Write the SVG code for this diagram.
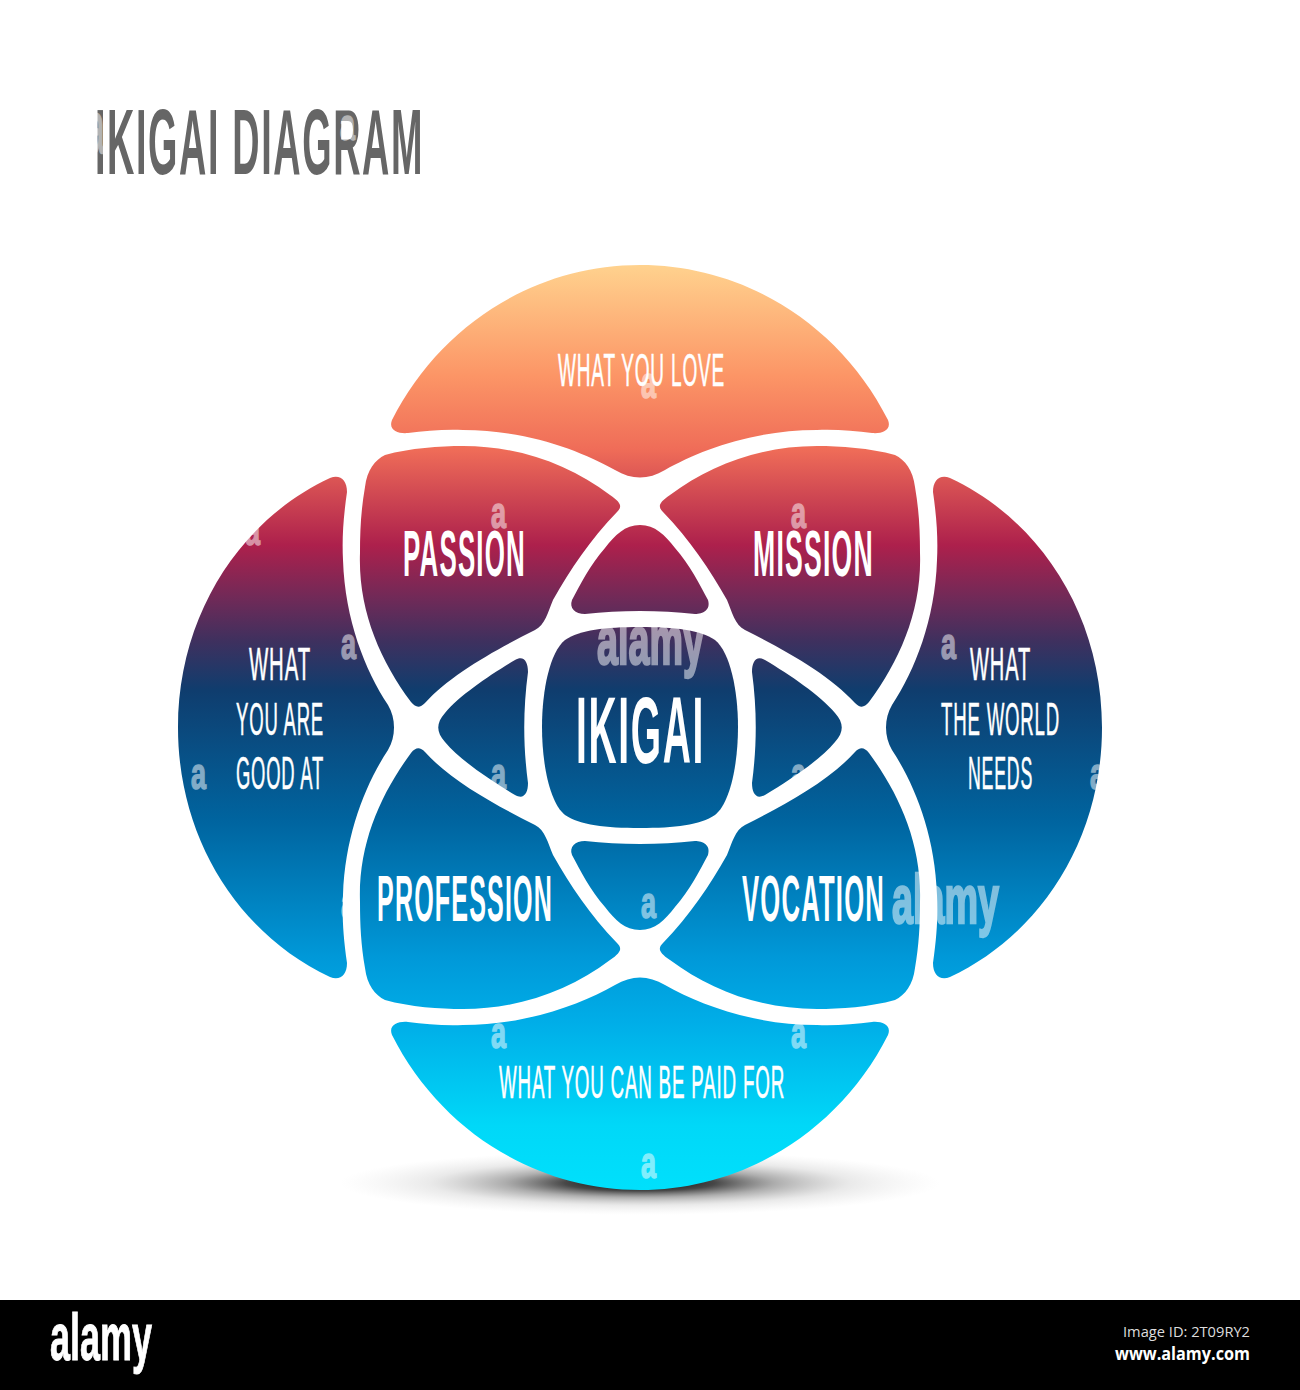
<svg xmlns="http://www.w3.org/2000/svg" width="1300" height="1390" viewBox="0 0 1300 1390">
<defs>
<linearGradient id="g" gradientUnits="userSpaceOnUse" x1="0" y1="265" x2="0" y2="1190">
<stop offset="0" stop-color="#ffd28e"/>
<stop offset="0.12" stop-color="#fc9566"/>
<stop offset="0.2" stop-color="#ef6c58"/>
<stop offset="0.303" stop-color="#ad204c"/>
<stop offset="0.362" stop-color="#6e2a58"/>
<stop offset="0.405" stop-color="#40305e"/>
<stop offset="0.46" stop-color="#0f3d6e"/>
<stop offset="0.6" stop-color="#00649f"/>
<stop offset="0.75" stop-color="#0099d9"/>
<stop offset="0.82" stop-color="#00aee8"/>
<stop offset="0.93" stop-color="#00d8f8"/>
<stop offset="1" stop-color="#00e0fc"/>
</linearGradient>
<radialGradient id="sh" cx="0.5" cy="0.5" r="0.5">
<stop offset="0" stop-color="#000" stop-opacity="1"/>
<stop offset="0.25" stop-color="#333" stop-opacity="0.9"/>
<stop offset="0.45" stop-color="#777" stop-opacity="0.6"/>
<stop offset="0.7" stop-color="#aaa" stop-opacity="0.25"/>
<stop offset="1" stop-color="#ccc" stop-opacity="0"/>
</radialGradient>
</defs>
<style>
.p{fill:url(#g)}
text{font-family:"Liberation Sans",Arial,sans-serif}
.t{fill:#fff}
.b{font-size:65px;font-weight:700;letter-spacing:3px}
.s{font-size:47px;letter-spacing:2px;stroke:#fff;stroke-width:.6px}
.w{fill:#fff;stroke:#fff;stroke-width:1.5px;opacity:.5;font-weight:700;font-size:44px}
.a{font-size:68px;stroke-width:2.5px}
.f{font-family:"Open Sans","Liberation Sans",sans-serif}
</style>
<rect width="1300" height="1390" fill="#fff"/>
<ellipse cx="640" cy="1183" rx="300" ry="32" fill="url(#sh)"/>
<text id="title" x="95" y="174" font-size="93" font-weight="700" fill="#666" letter-spacing="4" textLength="329" lengthAdjust="spacingAndGlyphs">IKIGAI DIAGRAM</text>
<g id="love"><path class="p" d="M392 420C440 325 535 265 640 265C745 265 840 325 888 420C892 430 882 434 872 433C855 431 835 429 817 430C755 430 700 450 665 470C648 480 632 480 615 470C580 450 525 430 463 430C445 429 425 431 408 433C398 434 388 430 392 420Z"/>
<text class="t s" x="558" y="386" textLength="167" lengthAdjust="spacingAndGlyphs">WHAT YOU LOVE</text></g>
<g id="paid"><path class="p" d="M392 1035C440 1130 535 1190 640 1190C745 1190 840 1130 888 1035C892 1025 882 1021 872 1022C855 1024 835 1026 817 1025C755 1025 700 1005 665 985C648 975 632 975 615 985C580 1005 525 1025 463 1025C445 1026 425 1024 408 1022C398 1021 388 1025 392 1035Z"/>
<text class="t s" x="499" y="1098" textLength="286" lengthAdjust="spacingAndGlyphs">WHAT YOU CAN BE PAID FOR</text></g>
<g id="good"><path class="p" d="M330 478C340 474 347 480 347 492C343 520 342 540 343 560C345 620 365 670 388 705C396 718 396 737 388 750C365 785 345 835 343 895C342 915 343 935 347 963C347 975 340 981 330 977C240 935 178 840 178 727.5C178 615 240 520 330 478Z"/>
<text class="t s" x="249" y="680" textLength="62" lengthAdjust="spacingAndGlyphs">WHAT</text>
<text class="t s" x="236" y="735" textLength="88" lengthAdjust="spacingAndGlyphs">YOU ARE</text>
<text class="t s" x="236" y="789" textLength="88" lengthAdjust="spacingAndGlyphs">GOOD AT</text></g>
<g id="world"><path class="p" d="M950 478C940 474 933 480 933 492C937 520 938 540 937 560C935 620 915 670 892 705C884 718 884 737 892 750C915 785 935 835 937 895C938 915 937 935 933 963C933 975 940 981 950 977C1040 935 1102 840 1102 727.5C1102 615 1040 520 950 478Z"/>
<text class="t s" x="970" y="680" textLength="61" lengthAdjust="spacingAndGlyphs">WHAT</text>
<text class="t s" x="941" y="735" textLength="119" lengthAdjust="spacingAndGlyphs">THE WORLD</text>
<text class="t s" x="968" y="789" textLength="65" lengthAdjust="spacingAndGlyphs">NEEDS</text></g>
<g id="passion"><path class="p" d="M385 455C410 448 440 446 463 446C520 446 570 465 610 495C622 503 622 507 617 512C590 540 570 570 553 600C548 612 545 625 535 630C495 650 450 675 425 703C420 708 416 708 411 702C380 660 358 610 360 553C360 530 361 510 365 487C367 470 375 460 385 455Z"/>
<text class="t b" x="403" y="576" textLength="123" lengthAdjust="spacingAndGlyphs">PASSION</text></g>
<g id="mission"><path class="p" d="M895 455C870 448 840 446 817 446C760 446 710 465 670 495C658 503 658 507 663 512C690 540 710 570 727 600C732 612 735 625 745 630C785 650 830 675 855 703C860 708 864 708 869 702C900 660 922 610 920 553C920 530 919 510 915 487C913 470 905 460 895 455Z"/>
<text class="t b" x="753" y="576" textLength="121" lengthAdjust="spacingAndGlyphs">MISSION</text></g>
<g id="profession"><path class="p" d="M385 1000C410 1007 440 1009 463 1009C520 1009 570 990 610 960C622 952 622 948 617 943C590 915 570 885 553 855C548 843 545 830 535 825C495 805 450 780 425 752C420 747 416 747 411 753C380 795 358 845 360 902C360 925 361 945 365 968C367 985 375 995 385 1000Z"/>
<text class="t b" x="377" y="921" textLength="176" lengthAdjust="spacingAndGlyphs">PROFESSION</text></g>
<g id="vocation"><path class="p" d="M895 1000C870 1007 840 1009 817 1009C760 1009 710 990 670 960C658 952 658 948 663 943C690 915 710 885 727 855C732 843 735 830 745 825C785 805 830 780 855 752C860 747 864 747 869 753C900 795 922 845 920 902C920 925 919 945 915 968C913 985 905 995 895 1000Z"/>
<text class="t b" x="742" y="921" textLength="143" lengthAdjust="spacingAndGlyphs">VOCATION</text></g>
<g id="overlap-top"><path class="p" d="M640 525C655 525 665 535 675 548C690 565 700 585 708 600C711 610 703 614 695 614C660 610 620 610 585 614C575 614 569 608 572 600C580 585 590 565 605 548C615 535 625 525 640 525Z"/></g>
<g id="overlap-bottom"><path class="p" d="M640 930C655 930 665 920 675 907C690 890 700 870 708 855C711 845 703 841 695 841C660 845 620 845 585 841C575 841 569 847 572 855C580 870 590 890 605 907C615 920 625 930 640 930Z"/></g>
<g id="overlap-left"><path class="p" d="M515 660C524 655 528 662 528 672C523 710 523 745 528 783C528 793 524 800 515 795C490 780 460 760 445 742C436 732 436 723 445 713C460 695 490 675 515 660Z"/></g>
<g id="overlap-right"><path class="p" d="M765 660C756 655 752 662 752 672C757 710 757 745 752 783C752 793 756 800 765 795C790 780 820 760 835 742C844 732 844 723 835 713C820 695 790 675 765 660Z"/></g>
<g id="ikigai"><path class="p" d="M640 627C675 627 700 630 715 640C730 652 738 690 738 727C738 765 730 803 715 815C700 825 675 828 640 828C605 828 580 825 565 815C550 803 542 765 542 727C542 690 550 652 565 640C580 630 605 627 640 627Z"/>
<text class="t" x="576" y="763" font-size="95" font-weight="700" letter-spacing="4" textLength="129" lengthAdjust="spacingAndGlyphs">IKIGAI</text></g>
<g id="watermarks">
<text class="w" x="491" y="528" textLength="15" lengthAdjust="spacingAndGlyphs">a</text>
<text class="w" x="791" y="528" textLength="15" lengthAdjust="spacingAndGlyphs">a</text>
<text class="w" x="641" y="398" textLength="15" lengthAdjust="spacingAndGlyphs">a</text>
<text class="w" x="341" y="659" textLength="15" lengthAdjust="spacingAndGlyphs">a</text>
<text class="w" x="941" y="659" textLength="15" lengthAdjust="spacingAndGlyphs">a</text>
<text class="w" x="191" y="789" textLength="15" lengthAdjust="spacingAndGlyphs">a</text>
<text class="w" x="491" y="789" textLength="15" lengthAdjust="spacingAndGlyphs">a</text>
<text class="w" x="791" y="789" textLength="15" lengthAdjust="spacingAndGlyphs">a</text>
<text class="w" x="1090" y="789" textLength="15" lengthAdjust="spacingAndGlyphs">a</text>
<text class="w" x="341" y="918" textLength="15" lengthAdjust="spacingAndGlyphs">a</text>
<text class="w" x="641" y="918" textLength="15" lengthAdjust="spacingAndGlyphs">a</text>
<text class="w" x="491" y="1048" textLength="15" lengthAdjust="spacingAndGlyphs">a</text>
<text class="w" x="791" y="1048" textLength="15" lengthAdjust="spacingAndGlyphs">a</text>
<text class="w" x="641" y="1178" textLength="15" lengthAdjust="spacingAndGlyphs">a</text>
<text class="w" x="245" y="545" textLength="15" lengthAdjust="spacingAndGlyphs">a</text>
<text class="w" x="340" y="140" textLength="15" lengthAdjust="spacingAndGlyphs">a</text>
<text class="w" x="89" y="153" style="font-size:75px" textLength="15" lengthAdjust="spacingAndGlyphs">a</text>
<text class="w a" x="597" y="664" textLength="107" lengthAdjust="spacingAndGlyphs">alamy</text>
<text class="w a" x="892" y="923" textLength="107" lengthAdjust="spacingAndGlyphs">alamy</text>
</g>
<g id="footer">
<rect x="0" y="1300" width="1300" height="90" fill="#000"/>
<text x="50" y="1360" font-size="66" font-weight="700" fill="#fff" stroke="#fff" textLength="102" lengthAdjust="spacingAndGlyphs">alamy</text>
<text class="f" x="1123" y="1337" font-size="15" fill="#ddd" textLength="127" lengthAdjust="spacingAndGlyphs">Image ID: 2T09RY2</text>
<text class="f" x="1115" y="1360" font-size="18" font-weight="700" fill="#fff" textLength="135" lengthAdjust="spacingAndGlyphs">www.alamy.com</text>
</g>
</svg>
